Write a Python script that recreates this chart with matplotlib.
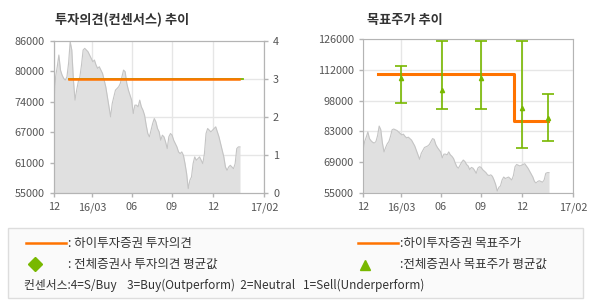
import numpy as np
import matplotlib.pyplot as plt
from matplotlib.patches import Rectangle
from matplotlib.lines import Line2D

plt.rcParams['font.family'] = ['Noto Sans CJK KR', 'DejaVu Sans']

# x axis: ticks (axis units, quarter spacing as drawn on the chart)
tick_pos = [0, 38, 78, 118, 159, 210]
tick_lab = ["12", "16/03", "06", "09", "12", "17/02"]

# stock price (read from the grey area)
price = [73940, 78710, 80750, 83140, 80070, 79050, 78370, 78030, 78710, 81430,
         85860, 84160, 78030, 73940, 75980, 77690, 78710, 81090, 84160, 84500,
         84160, 83820, 83140, 82460, 81770, 82120, 81090, 80410, 80750, 80070,
         79390, 78030, 76670, 74620, 72580, 70530, 73260, 74620, 75980, 76320,
         76670, 77350, 78710, 80070, 79730, 77350, 75980, 74960, 73940, 71210,
         72920, 72920, 72580, 73940, 72580, 71900, 70870, 68830, 67130, 66450,
         67810, 69170, 70190, 69510, 68150, 67470, 65760, 66790, 66450, 65420,
         64060, 66450, 67130, 66790, 65760, 65080, 64400, 63380, 63040, 63380,
         62700, 61000, 58950, 55890, 57590, 58270, 61000, 62360, 61680, 62020,
         62360, 61680, 61000, 63040, 67130, 68150, 67810, 67470, 67810, 68150,
         68490, 67470, 66450, 65080, 63720, 62360, 60310, 59630, 60310, 60650,
         60310, 59970, 61000, 64060, 64400, 64400]
price_end = 186

# investment opinion (하이투자증권 / 전체 평균)
op_x = [15, 185]
op_val = [3, 3]
avg_op_x = [15, 189]
avg_op_val = [3, 3]

# target price
tp_x = [15, 151, 151, 185]
tp_val = [110000, 110000, 88000, 88000]
cons_x = [38, 79, 118, 159, 185]
cons_avg = [108200, 102600, 108200, 94300, 89700]
cons_hi = [113400, 125000, 125000, 125000, 100500]
cons_lo = [96300, 93700, 93700, 75700, 78800]

orange = '#ff7300'
green = '#78b800'
grid_c = '#e6e6e6'
spine_c = '#b4b4b4'
txt_c = '#555555'
px = np.linspace(0, price_end, len(price))

fig = plt.figure(figsize=(5.9, 3.0), dpi=100)


def style(ax):
    for s in ax.spines.values():
        s.set_color(spine_c)
    ax.set_xlim(0, 210)
    ax.set_xticks(tick_pos, labels=tick_lab)
    ax.tick_params(colors=spine_c, labelcolor=txt_c, labelsize=7.8, length=3, width=1)
    ax.grid(axis='x', color=grid_c, lw=1)
    ax.set_axisbelow(True)


## left: 투자의견
ax1 = fig.add_axes([54/590, 1-193/300, 210/590, 152/300])
style(ax1)
ax1.fill_between(px, price, 55000, color='#e0e0e0', lw=0)
ax1.plot(px, price, color='#c4c4c4', lw=0.8)
ax1.set_ylim(55000, 86000)
ax1.set_yticks(np.linspace(55000, 86000, 6),
               labels=["55000", "61000", "67000", "74000", "80000", "86000"])

ax1b = ax1.twinx()
for s in ax1b.spines.values():
    s.set_color(spine_c)
ax1b.set_ylim(0, 4)
ax1b.set_yticks([0, 1, 2, 3, 4])
ax1b.tick_params(colors=spine_c, labelcolor=txt_c, labelsize=7.8, length=3, width=1)
for v in [1, 2, 3]:
    ax1.axhline(55000 + v * 31000 / 4, color=grid_c, lw=1, zorder=0)
ax1b.plot(avg_op_x, avg_op_val, color=green, lw=1.3)
ax1b.plot(op_x, op_val, color=orange, lw=1.8)
fig.text(55/590, 1-20/300, "투자의견(컨센서스) 추이", fontsize=9.5, fontweight='bold',
         color='#333333', va='center')

## right: 목표주가
ax2 = fig.add_axes([363/590, 1-193/300, 210/590, 154/300])
style(ax2)
ax2.grid(axis='y', color=grid_c, lw=1)
ax2.fill_between(px, price, 55000, color='#e0e0e0', lw=0)
ax2.plot(px, price, color='#c4c4c4', lw=0.8)
ax2.set_ylim(55000, 126000)
ax2.set_yticks(np.linspace(55000, 126000, 6),
               labels=["55000", "69000", "83000", "98000", "112000", "126000"])
ax2.plot(tp_x, tp_val, color=orange, lw=2.2, zorder=3)
err = [np.array(cons_avg) - np.array(cons_lo), np.array(cons_hi) - np.array(cons_avg)]
ax2.errorbar(cons_x, cons_avg, yerr=err, fmt='^', color=green, ms=3,
             ecolor=green, elinewidth=1.2, capsize=4.5, capthick=1.2, zorder=4)
fig.text(367/590, 1-20/300, "목표주가 추이", fontsize=9.5, fontweight='bold',
         color='#333333', va='center')

## legend box
fig.patches.append(Rectangle((8/590, 1-298/300), 575/590, 70/300, transform=fig.transFigure,
                             facecolor='#fafafa', edgecolor='#dddddd', lw=1))
fs = 9
lc = '#333333'
fig.lines.append(Line2D([26/590, 66/590], [1-243/300]*2, transform=fig.transFigure,
                        color=orange, lw=1.8))
fig.text(68/590, 1-243/300, ": 하이투자증권 투자의견", fontsize=fs, color=lc, va='center')
fig.lines.append(Line2D([358/590, 398/590], [1-243/300]*2, transform=fig.transFigure,
                        color=orange, lw=1.8))
fig.text(400/590, 1-243/300, ":하이투자증권 목표주가", fontsize=fs, color=lc, va='center')
fig.lines.append(Line2D([35/590], [1-264/300], transform=fig.transFigure, marker='D',
                        color=green, ms=7, lw=0))
fig.text(68/590, 1-264/300, ": 전체증권사 투자의견 평균값", fontsize=fs, color=lc, va='center')
fig.lines.append(Line2D([365/590], [1-265/300], transform=fig.transFigure, marker='^',
                        color=green, ms=7, lw=0))
fig.text(400/590, 1-264/300, ":전체증권사 목표주가 평균값", fontsize=fs, color=lc, va='center')
fig.text(24/590, 1-285/300,
         "컨센서스:4=S/Buy    3=Buy(Outperform)  2=Neutral   1=Sell(Underperform)",
         fontsize=8.5, color=lc, va='center')

plt.savefig("out.png", dpi=100)
